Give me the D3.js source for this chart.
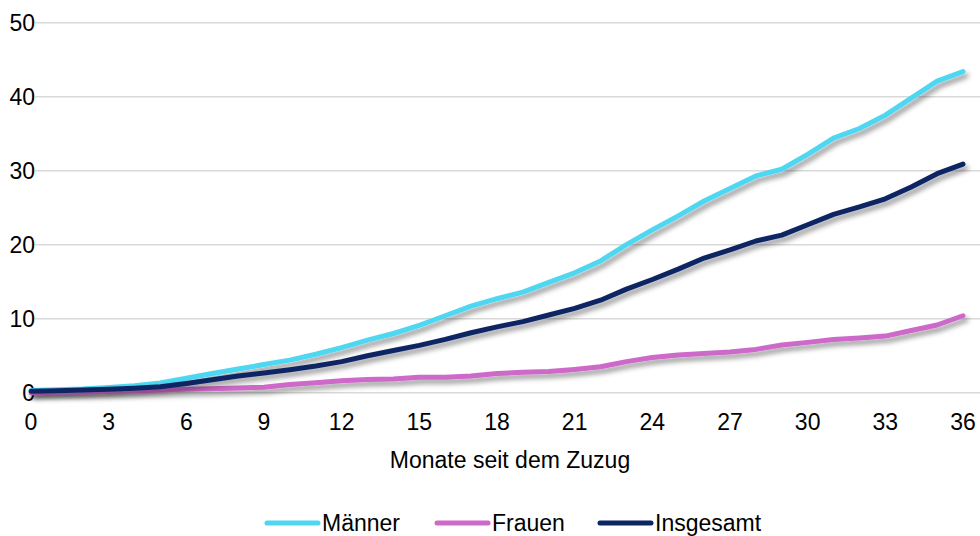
<!DOCTYPE html>
<html>
<head>
<meta charset="utf8">
<style>
  body { margin: 0; background: #fff; }
  text { font-family: "Liberation Sans", Arial, sans-serif; fill: #000; font-size: 23px; }
  .grid line { stroke: #d9d9d9; stroke-width: 1.5px; }
</style>
</head>
<body>
<svg width="980" height="536"></svg>
<script src="https://d3js.org/d3.v7.min.js"></script>
<script>
// months since arrival, 0..36
var months = d3.range(0, 37);
var yTicks = [0, 10, 20, 30, 40, 50];
var xTicks = [0, 3, 6, 9, 12, 15, 18, 21, 24, 27, 30, 33, 36];

var maenner = [0.3, 0.4, 0.5, 0.7, 0.95, 1.3, 1.95, 2.6, 3.2, 3.8, 4.4, 5.2, 6.1,
  7.1, 8.0, 9.1, 10.4, 11.7, 12.7, 13.6, 14.9, 16.2, 17.8, 20.0, 22.0,
  23.9, 25.9, 27.6, 29.3, 30.2, 32.2, 34.4, 35.7, 37.5, 39.8, 42.1, 43.4];
var frauen = [0.0, 0.05, 0.1, 0.15, 0.25, 0.35, 0.45, 0.55, 0.65, 0.75, 1.1, 1.35, 1.6,
  1.8, 1.85, 2.1, 2.1, 2.25, 2.6, 2.75, 2.85, 3.15, 3.5, 4.2, 4.75,
  5.1, 5.3, 5.5, 5.85, 6.45, 6.8, 7.2, 7.4, 7.65, 8.4, 9.15, 10.4];
var insgesamt = [0.2, 0.25, 0.35, 0.45, 0.6, 0.8, 1.25, 1.75, 2.25, 2.65, 3.1, 3.6, 4.2,
  5.0, 5.7, 6.4, 7.2, 8.1, 8.9, 9.6, 10.5, 11.4, 12.5, 14.0, 15.3,
  16.7, 18.2, 19.3, 20.5, 21.3, 22.7, 24.1, 25.1, 26.2, 27.8, 29.6, 30.9];

var series = [
  {name: "Männer", values: maenner, color: "#4dd7f1"},
  {name: "Frauen", values: frauen, color: "#cd69c8"},
  {name: "Insgesamt", values: insgesamt, color: "#0c2563"}
];

var svg = d3.select("svg");

var defs = svg.append("defs");
var f = defs.append("filter").attr("id", "shadow")
    .attr("x", "-5%").attr("y", "-5%").attr("width", "115%").attr("height", "130%");
f.append("feDropShadow")
    .attr("dx", 3).attr("dy", 4).attr("stdDeviation", 2.4)
    .attr("flood-color", "#000").attr("flood-opacity", 0.4);

var x = d3.scaleLinear().domain([0, 36]).range([31, 963]);
var y = d3.scaleLinear().domain([0, 50]).range([392.7, 22.7]);

// gridlines
svg.append("g").attr("class", "grid")
  .selectAll("line").data(yTicks).enter().append("line")
  .attr("x1", 35).attr("x2", 980)
  .attr("y1", d => y(d)).attr("y2", d => y(d));

// y labels
svg.append("g").selectAll("text").data(yTicks).enter().append("text")
  .attr("x", 35).attr("y", d => y(d))
  .attr("dy", "0.36em")
  .attr("text-anchor", "end")
  .text(d => d);

// x labels
svg.append("g").selectAll("text").data(xTicks).enter().append("text")
  .attr("x", d => x(d)).attr("y", 422)
  .attr("dy", "0.36em")
  .attr("text-anchor", "middle")
  .text(d => d);

svg.append("text")
  .attr("x", 510).attr("y", 460).attr("dy", "0.36em")
  .attr("text-anchor", "middle")
  .text("Monate seit dem Zuzug");

var line = d3.line()
  .x((d, i) => x(months[i]))
  .y(d => y(d));

svg.append("g").selectAll("path").data(series).enter().append("path")
  .attr("d", d => line(d.values))
  .attr("fill", "none")
  .attr("stroke", d => d.color)
  .attr("stroke-width", 5)
  .attr("stroke-linejoin", "round")
  .attr("stroke-linecap", "round")
  .attr("filter", "url(#shadow)");

// legend
var legendX = [267, 437, 600];
var lg = svg.append("g").selectAll("g").data(series).enter().append("g")
  .attr("transform", (d, i) => "translate(" + legendX[i] + ",523)");
lg.append("line")
  .attr("x1", 0).attr("x2", 51)
  .attr("stroke", d => d.color)
  .attr("stroke-width", 5)
  .attr("stroke-linecap", "round");
lg.append("text")
  .attr("x", 55).attr("dy", "0.36em")
  .text(d => d.name);
</script>
</body>
</html>
